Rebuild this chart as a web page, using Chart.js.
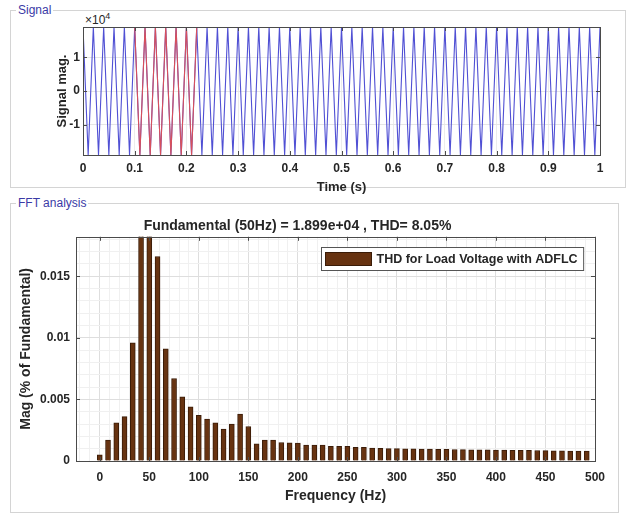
<!DOCTYPE html>
<html>
<head>
<meta charset="utf-8">
<script src="https://cdn.jsdelivr.net/npm/chart.js@4"></script>
<style>
  body { margin: 0; background: #fff; font-family: "Liberation Sans", Arial, sans-serif; }
  #page { position: relative; width: 632px; height: 515px; overflow: hidden; }
  .panel { position: absolute; border: 1px solid #d4d4d4; box-sizing: border-box; }
  .panel-title { position: absolute; top: -8px; left: 5px; padding: 0 2px; background: #fff; color: #3a3aa6; font-size: 12px; }
  canvas { position: absolute; left: 0; }
  #expo { position: absolute; left: 85px; top: 11px; font-size: 12px; color: #262626; }
  #expo sup { font-size: 9px; }
</style>
</head>
<body>
<div id="page">
  <div class="panel" style="left:10px; top:10px; width:616px; height:178px;"><span class="panel-title">Signal</span></div>
  <div class="panel" style="left:10px; top:203px; width:609px; height:310px;"><span class="panel-title">FFT analysis</span></div>
  <div id="expo">×10<sup>4</sup></div>
  <canvas id="signalChart" style="top:0px;"></canvas>
  <canvas id="fftChart" style="top:200px;"></canvas>
</div>
<script>
// Signal (values in units of 1e4)
const sigTime = [
  0, 0.01, 0.02, 0.03, 0.04, 0.05, 0.06, 0.07, 0.08, 0.09,
  0.1, 0.11, 0.12, 0.13, 0.14, 0.15, 0.16, 0.17, 0.18, 0.19,
  0.2, 0.21, 0.22, 0.23, 0.24, 0.25, 0.26, 0.27, 0.28, 0.29,
  0.3, 0.31, 0.32, 0.33, 0.34, 0.35, 0.36, 0.37, 0.38, 0.39,
  0.4, 0.41, 0.42, 0.43, 0.44, 0.45, 0.46, 0.47, 0.48, 0.49,
  0.5, 0.51, 0.52, 0.53, 0.54, 0.55, 0.56, 0.57, 0.58, 0.59,
  0.6, 0.61, 0.62, 0.63, 0.64, 0.65, 0.66, 0.67, 0.68, 0.69,
  0.7, 0.71, 0.72, 0.73, 0.74, 0.75, 0.76, 0.77, 0.78, 0.79,
  0.8, 0.81, 0.82, 0.83, 0.84, 0.85, 0.86, 0.87, 0.88, 0.89,
  0.9, 0.91, 0.92, 0.93, 0.94, 0.95, 0.96, 0.97, 0.98, 0.99,
  1
];
const sigValue = [
  1.899, -1.899, 1.899, -1.899, 1.899, -1.899, 1.899, -1.899, 1.899, -1.899,
  1.899, -1.899, 1.899, -1.899, 1.899, -1.899, 1.899, -1.899, 1.899, -1.899,
  1.899, -1.899, 1.899, -1.899, 1.899, -1.899, 1.899, -1.899, 1.899, -1.899,
  1.899, -1.899, 1.899, -1.899, 1.899, -1.899, 1.899, -1.899, 1.899, -1.899,
  1.899, -1.899, 1.899, -1.899, 1.899, -1.899, 1.899, -1.899, 1.899, -1.899,
  1.899, -1.899, 1.899, -1.899, 1.899, -1.899, 1.899, -1.899, 1.899, -1.899,
  1.899, -1.899, 1.899, -1.899, 1.899, -1.899, 1.899, -1.899, 1.899, -1.899,
  1.899, -1.899, 1.899, -1.899, 1.899, -1.899, 1.899, -1.899, 1.899, -1.899,
  1.899, -1.899, 1.899, -1.899, 1.899, -1.899, 1.899, -1.899, 1.899, -1.899,
  1.899, -1.899, 1.899, -1.899, 1.899, -1.899, 1.899, -1.899, 1.899, -1.899,
  1.899
];
const selWindow = [0.1, 0.22];   // FFT window (6 cycles), drawn red
const timeTicks = [0, 0.1, 0.2, 0.3, 0.4, 0.5, 0.6, 0.7, 0.8, 0.9, 1];
const sigTicks = [-1, 0, 1];

// FFT spectrum
const freqs = [
  0, 8.33, 16.67, 25, 33.33, 41.67, 50, 58.33, 66.67, 75,
  83.33, 91.67, 100, 108.33, 116.67, 125, 133.33, 141.67, 150, 158.33,
  166.67, 175, 183.33, 191.67, 200, 208.33, 216.67, 225, 233.33, 241.67,
  250, 258.33, 266.67, 275, 283.33, 291.67, 300, 308.33, 316.67, 325,
  333.33, 341.67, 350, 358.33, 366.67, 375, 383.33, 391.67, 400, 408.33,
  416.67, 425, 433.33, 441.67, 450, 458.33, 466.67, 475, 483.33, 491.67
];
const mags = [
  0.0005, 0.0017, 0.0031, 0.0036, 0.0096, 0.024, 0.03, 0.0166, 0.0091, 0.0067,
  0.0052, 0.0044, 0.0037, 0.0034, 0.0031, 0.0026, 0.0030, 0.0038, 0.0028, 0.0014,
  0.0017, 0.0017, 0.0015, 0.00148, 0.00146, 0.0013, 0.0013, 0.0013, 0.0012, 0.0012,
  0.0012, 0.0011, 0.0011, 0.00105, 0.00103, 0.00101, 0.001, 0.00099, 0.00098, 0.00097,
  0.00096, 0.00095, 0.00094, 0.00093, 0.00092, 0.00091, 0.0009, 0.0009, 0.00089, 0.00088,
  0.00087, 0.00086, 0.00086, 0.00085, 0.00084, 0.00083, 0.00082, 0.00081, 0.0008, 0.0008
];
const freqTicks = [0, 50, 100, 150, 200, 250, 300, 350, 400, 450, 500];
const magTicks = [0, 0.005, 0.01, 0.015];
const fftTitle = 'Fundamental (50Hz) = 1.899e+04 , THD= 8.05%';
const fftLabel = 'THD for Load Voltage with ADFLC';

const FONT = '"Liberation Sans", Arial, sans-serif';
const TXT = '#262626';

function isMajor(v, list) {
  return list.some(m => Math.abs(m - v) < 1e-9);
}

// box round the plot area, with MATLAB-style inward tick marks
const axesBox = {
  id: 'axesBox',
  afterDatasetsDraw(chart, args, opts) {
    const { ctx, chartArea: a, scales } = chart;
    ctx.save();
    ctx.strokeStyle = opts.color || '#555';
    ctx.lineWidth = 1;
    ctx.beginPath();
    (opts.xMajor || []).forEach(v => {
      const px = Math.round(scales.x.getPixelForValue(v)) + 0.5;
      ctx.moveTo(px, a.bottom); ctx.lineTo(px, a.bottom - 4);
      ctx.moveTo(px, a.top); ctx.lineTo(px, a.top + 4);
    });
    (opts.yMajor || []).forEach(v => {
      const py = Math.round(scales.y.getPixelForValue(v)) + 0.5;
      ctx.moveTo(a.left, py); ctx.lineTo(a.left + 4, py);
      ctx.moveTo(a.right, py); ctx.lineTo(a.right - 4, py);
    });
    ctx.stroke();
    ctx.strokeRect(Math.round(a.left) + 0.5, Math.round(a.top) + 0.5,
                   Math.round(a.right - a.left), Math.round(a.bottom - a.top));
    ctx.restore();
  }
};

// legend box inside the plot area, top right
const boxLegend = {
  id: 'boxLegend',
  afterDraw(chart) {
    const ds = chart.data.datasets[0];
    const { ctx, chartArea: a } = chart;
    ctx.save();
    ctx.font = 'bold 12.5px ' + FONT;
    const tw = ctx.measureText(ds.label).width;
    const h = 23, sw = 46;
    const w = 4 + sw + 5 + tw + 6;
    const x = Math.round(a.right - 12 - w) + 0.5, y = Math.round(a.top + 10) + 0.5;
    ctx.fillStyle = '#fff';
    ctx.fillRect(x, y, w, h);
    ctx.strokeStyle = '#555';
    ctx.lineWidth = 1;
    ctx.strokeRect(x, y, w, h);
    ctx.fillStyle = ds.backgroundColor;
    ctx.fillRect(x + 4, y + 5, sw, 13);
    ctx.strokeStyle = ds.borderColor;
    ctx.strokeRect(x + 4, y + 5, sw, 13);
    ctx.fillStyle = TXT;
    ctx.textBaseline = 'middle';
    ctx.fillText(ds.label, x + 4 + sw + 5, y + h / 2 + 0.5);
    ctx.restore();
  }
};

function sizeCanvas(id, h) {
  const c = document.getElementById(id);
  c.style.width = '632px';
  c.style.height = h + 'px';
  return c;
}

// ---- Signal chart ----
const sigPoints = sigTime.map((t, i) => ({ x: t, y: sigValue[i] }));
const selPoints = sigPoints.filter(p => p.x >= selWindow[0] - 1e-9 && p.x <= selWindow[1] + 1e-9);

new Chart(sizeCanvas('signalChart', 200), {
  type: 'line',
  data: {
    datasets: [
      { data: selPoints, borderColor: '#d8505c', borderWidth: 1.1, pointRadius: 0, tension: 0 },
      { data: sigPoints, borderColor: '#5050d4', borderWidth: 1.1, pointRadius: 0, tension: 0 }
    ]
  },
  options: {
    responsive: false,
    animation: false,
    events: [],
    layout: { padding: { top: 27, right: 32, bottom: 0, left: 0 } },
    plugins: { legend: { display: false }, tooltip: { enabled: false }, axesBox: { xMajor: timeTicks, yMajor: sigTicks, color: '#4a4a4a' } },
    scales: {
      x: {
        type: 'linear', min: 0, max: 1,
        afterBuildTicks: s => { s.ticks = timeTicks.map(v => ({ value: v })); },
        afterFit: s => { s.height = 45; },
        grid: { color: '#ececec', drawTicks: false },
        border: { display: false },
        ticks: { color: TXT, font: { family: FONT, size: 12, weight: 'bold' }, padding: 6, maxRotation: 0, autoSkip: false,
                 callback: v => String(Number(v.toFixed(2))) },
        title: { display: true, text: 'Time (s)', color: TXT, font: { family: FONT, size: 13, weight: 'bold' }, padding: { top: 0, bottom: 5 } }
      },
      y: {
        min: -1.9, max: 1.9,
        afterBuildTicks: s => { s.ticks = sigTicks.map(v => ({ value: v })); },
        afterFit: s => { s.width = 83; },
        grid: { color: '#e6e6e6', drawTicks: false },
        border: { display: false },
        ticks: { color: TXT, font: { family: FONT, size: 12, weight: 'bold' }, padding: 3 },
        title: { display: true, text: 'Signal mag.', color: TXT, font: { family: FONT, size: 13, weight: 'bold' }, padding: { top: 55, bottom: 0 } }
      }
    }
  },
  plugins: [axesBox]
});

// ---- FFT chart ----
const minorFreq = [];
for (let f = -20; f <= 500; f += 10) minorFreq.push(f);
const minorMag = [];
for (let m = 0; m <= 18; m++) minorMag.push(m / 1000);

new Chart(sizeCanvas('fftChart', 315), {
  type: 'bar',
  data: {
    datasets: [{
      label: fftLabel,
      data: freqs.map((f, i) => ({ x: f, y: mags[i] })),
      backgroundColor: '#673311',
      borderColor: '#3a1c08',
      borderWidth: 1,
      barThickness: 5
    }]
  },
  options: {
    responsive: false,
    animation: false,
    events: [],
    layout: { padding: { top: 0, right: 37, bottom: 0, left: 0 } },
    plugins: {
      legend: { display: false },
      tooltip: { enabled: false },
      title: { display: true, text: fftTitle, color: TXT, font: { family: FONT, size: 14, weight: 'bold' }, padding: { top: 18, bottom: 2 } },
      axesBox: { xMajor: freqTicks, yMajor: magTicks, color: '#4a4a4a' }
    },
    scales: {
      x: {
        type: 'linear', min: -24, max: 500, offset: false,
        afterBuildTicks: s => { s.ticks = minorFreq.map(v => ({ value: v })); },
        afterFit: s => { s.height = 54; },
        grid: { offset: false, drawTicks: false, color: c => isMajor(c.tick.value, freqTicks) ? '#dedede' : '#f0f0f0' },
        border: { display: false },
        ticks: { color: TXT, font: { family: FONT, size: 12, weight: 'bold' }, padding: 9, maxRotation: 0, autoSkip: false,
                 callback: v => isMajor(v, freqTicks) ? String(v) : '' },
        title: { display: true, text: 'Frequency (Hz)', color: TXT, font: { family: FONT, size: 14, weight: 'bold' }, padding: { top: 0, bottom: 10 } }
      },
      y: {
        min: 0, max: 0.0182,
        afterBuildTicks: s => { s.ticks = minorMag.map(v => ({ value: v })); },
        afterFit: s => { s.width = 76; },
        grid: { drawTicks: false, color: c => isMajor(c.tick.value, magTicks) ? '#dedede' : '#f0f0f0' },
        border: { display: false },
        ticks: { color: TXT, font: { family: FONT, size: 12, weight: 'bold' }, padding: 6, autoSkip: false,
                 callback: v => isMajor(v, magTicks) ? String(Number(v.toFixed(4))) : '' },
        title: { display: true, text: 'Mag (% of Fundamental)', color: TXT, font: { family: FONT, size: 14, weight: 'bold' }, padding: { top: 18, bottom: 0 } }
      }
    }
  },
  plugins: [axesBox, boxLegend]
});
</script>
</body>
</html>
